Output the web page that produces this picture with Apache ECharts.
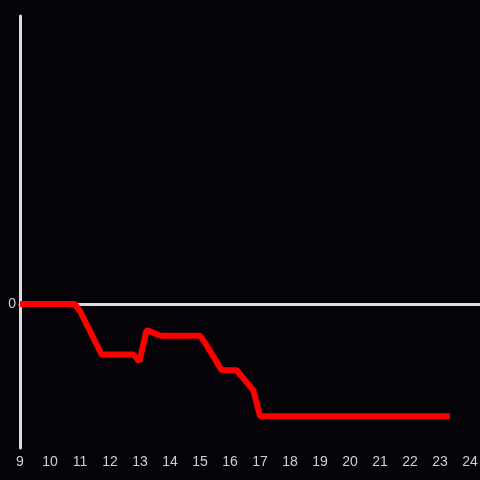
<!DOCTYPE html>
<html>
<head>
<meta charset="utf-8">
<script src="https://cdn.jsdelivr.net/npm/echarts@6/dist/echarts.min.js"></script>
<style>
  html, body { margin: 0; padding: 0; background: #050307; }
  #chart { width: 480px; height: 480px; }
</style>
</head>
<body>
<div id="chart"></div>
<script>
// hours on x, level on y
var hours = [9, 10.83, 11.0, 11.72, 12.78, 12.98, 13.22, 13.69, 15.0, 15.17, 15.72, 16.22, 16.78, 17.0, 23.33];
var levels = [0, 0, -0.05, -0.35, -0.35, -0.4, -0.18, -0.22, -0.22, -0.27, -0.46, -0.46, -0.6, -0.78, -0.78];
var xTicks = [9, 10, 11, 12, 13, 14, 15, 16, 17, 18, 19, 20, 21, 22, 23, 24];

var points = hours.map(function (h, i) { return [h, levels[i]]; });

var chart = echarts.init(document.getElementById('chart'));
var axisGrey = '#dcdcdc';

var option = {
    backgroundColor: '#050307',
    animation: false,
    grid: { left: 20, right: 0, top: 16, bottom: 32, containLabel: false, outerBoundsMode: 'none' },
    xAxis: [
        {
            type: 'value',
            min: xTicks[0],
            max: 24 + 1 / 3,
            interval: 1,
            axisLine: { show: false, onZero: false },
            axisTick: { show: false },
            splitLine: { show: false },
            axisLabel: {
                color: '#d0d0d0',
                fontSize: 14,
                margin: 7,
                formatter: function (v) { return xTicks.indexOf(v) >= 0 ? String(v) : ''; }
            }
        },
        {
            // the zero line
            type: 'value',
            min: xTicks[0],
            max: 24 + 1 / 3,
            axisLine: { show: true, onZero: true, lineStyle: { color: axisGrey, width: 3 } },
            axisTick: { show: false },
            axisLabel: { show: false },
            splitLine: { show: false }
        }
    ],
    yAxis: {
        type: 'value',
        min: -1,
        max: 2,
        interval: 1,
        axisLine: { show: true, onZero: false, lineStyle: { color: axisGrey, width: 3 } },
        axisTick: { show: false },
        splitLine: { show: false },
        axisLabel: {
            color: '#d0d0d0',
            fontSize: 14,
            margin: 4,
            formatter: function (v) { return v === 0 ? '0' : ''; }
        }
    },
    series: [
        {
            type: 'line',
            xAxisIndex: 0,
            data: points,
            showSymbol: false,
            lineStyle: { color: '#ff0000', width: 6 },
            z: 5
        }
    ]
};

chart.setOption(option);
</script>
</body>
</html>
